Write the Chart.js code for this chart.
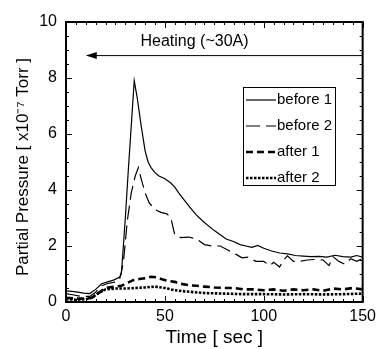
<!DOCTYPE html>
<html>
<head>
<meta charset="utf-8">
<script src="https://cdn.jsdelivr.net/npm/chart.js@4.4.0/dist/chart.umd.min.js"></script>
<style>
  html, body { margin: 0; padding: 0; background: #fff; }
  #wrap { width: 381px; height: 349px; position: relative; }
</style>
</head>
<body>
<div id="wrap"><canvas id="pressureChart"></canvas></div>
<script>
// time [sec] and partial pressure [x10^-7 Torr]
const before1Time = [0, 3, 6, 9, 12, 15, 18, 21, 24, 27, 28, 30, 31.5, 33, 34.5, 36, 38, 40, 41.5, 43, 45, 47, 50, 53, 55, 57, 60, 63, 66, 69, 72, 75, 78, 81, 85, 88, 91, 94, 97, 100, 104, 108, 112, 116, 120, 124, 128, 132, 136, 140, 144, 147, 150];
const before1 = [0.4, 0.38, 0.35, 0.32, 0.3, 0.45, 0.65, 0.72, 0.78, 0.88, 1.0, 3.0, 4.7, 6.3, 7.9, 7.3, 6.3, 5.4, 5.0, 4.8, 4.62, 4.5, 4.4, 4.25, 4.1, 3.9, 3.62, 3.35, 3.1, 2.9, 2.72, 2.55, 2.4, 2.25, 2.15, 2.05, 2.0, 1.95, 2.02, 1.92, 1.82, 1.75, 1.72, 1.66, 1.64, 1.62, 1.63, 1.6, 1.67, 1.62, 1.6, 1.66, 1.6];

const before2Time = [0, 4, 8, 12, 15, 18, 21, 24, 27, 29, 31, 33, 35, 36.6, 38, 40, 42, 45, 48, 51, 53, 55, 58, 62, 66, 70, 74, 78, 82, 86, 89, 92, 96, 100, 103, 105, 108, 110, 112, 115, 118, 122, 126, 130, 133, 135, 138, 141, 144, 147, 150];
const before2 = [0.3, 0.25, 0.2, 0.2, 0.35, 0.58, 0.66, 0.7, 0.78, 1.4, 2.9, 3.9, 4.5, 4.8, 4.4, 3.9, 3.55, 3.3, 3.2, 3.15, 3.0, 2.4, 2.3, 2.32, 2.25, 2.05, 2.0, 2.0, 1.85, 1.7, 1.58, 1.6, 1.45, 1.45, 1.3, 1.42, 1.25, 1.5, 1.65, 1.45, 1.45, 1.5, 1.52, 1.5, 1.3, 1.62, 1.45, 1.35, 1.55, 1.45, 1.55];

const after1Time = [0, 5, 10, 13, 16, 20, 25, 28, 31, 34, 37, 40, 43, 46, 49, 52, 55, 58, 62, 66, 70, 75, 80, 85, 90, 95, 100, 105, 110, 115, 120, 125, 130, 135, 140, 145, 150];
const after1 = [0.15, 0.12, 0.12, 0.15, 0.3, 0.5, 0.55, 0.58, 0.68, 0.78, 0.82, 0.85, 0.9, 0.88, 0.8, 0.75, 0.72, 0.65, 0.6, 0.58, 0.55, 0.52, 0.5, 0.5, 0.45, 0.45, 0.42, 0.45, 0.4, 0.45, 0.42, 0.45, 0.4, 0.48, 0.45, 0.5, 0.45];

const after2Time = [0, 5, 10, 13, 16, 20, 25, 30, 35, 40, 45, 50, 55, 60, 65, 70, 80, 90, 100, 110, 120, 130, 140, 150];
const after2 = [0.1, 0.08, 0.1, 0.15, 0.3, 0.45, 0.48, 0.48, 0.5, 0.52, 0.55, 0.5, 0.42, 0.38, 0.35, 0.32, 0.3, 0.28, 0.28, 0.27, 0.28, 0.27, 0.28, 0.3];

const seriesNames = ["before 1", "before 2", "after 1", "after 2"];
const xTicks = [0, 50, 100, 150];
const yTicks = [0, 2, 4, 6, 8, 10];

// heating period arrow (time range and level in data units)
const heatingLabel = "Heating (~30A)";
const heatingFrom = 150;
const heatingTo = 10;
const heatingLevel = 8.8;

const yTitle = "Partial Pressure [ x10\u207B\u2077 Torr ]";
const FONT = "'Liberation Sans', Arial, sans-serif";

function toPoints(times, values) {
  return times.map((t, i) => ({ x: t, y: values[i] }));
}

// frame, inward ticks, heating arrow, y title and legend box
const frameDecor = {
  id: "frameDecor",
  afterDraw(chart) {
    const { ctx, chartArea: a, scales: { x, y } } = chart;
    ctx.save();
    ctx.strokeStyle = "#000";
    ctx.fillStyle = "#000";
    ctx.lineWidth = 1;

    // minor ticks every 5 s and 0.5, major on labelled values
    ctx.beginPath();
    for (let t = 0; t <= 150; t += 5) {
      const px = Math.round(x.getPixelForValue(t)) + 0.5;
      const len = xTicks.includes(t) ? 6 : 3;
      ctx.moveTo(px, a.bottom); ctx.lineTo(px, a.bottom - len);
      ctx.moveTo(px, a.top); ctx.lineTo(px, a.top + len);
    }
    for (let v = 0; v <= 10; v += 0.5) {
      const py = Math.round(y.getPixelForValue(v)) + 0.5;
      const len = yTicks.includes(v) ? 6 : 3;
      ctx.moveTo(a.left, py); ctx.lineTo(a.left + len, py);
      ctx.moveTo(a.right, py); ctx.lineTo(a.right - len, py);
    }
    ctx.stroke();

    ctx.lineWidth = 2;
    ctx.strokeRect(a.left, a.top, a.right - a.left, a.bottom - a.top);

    // heating arrow
    const ay = y.getPixelForValue(heatingLevel);
    const ax0 = x.getPixelForValue(heatingFrom);
    const ax1 = x.getPixelForValue(heatingTo);
    ctx.lineWidth = 1;
    ctx.beginPath();
    ctx.moveTo(ax0, ay);
    ctx.lineTo(ax1 + 8, ay);
    ctx.stroke();
    ctx.beginPath();
    ctx.moveTo(ax1, ay);
    ctx.lineTo(ax1 + 11, ay - 3.5);
    ctx.lineTo(ax1 + 11, ay + 3.5);
    ctx.closePath();
    ctx.fill();

    ctx.font = "16px " + FONT;
    ctx.textAlign = "center";
    ctx.textBaseline = "middle";
    ctx.fillText(heatingLabel, x.getPixelForValue(65), y.getPixelForValue(9.3));

    // y axis title, a little below the plot centre as in the original
    ctx.save();
    ctx.translate(23, 167);
    ctx.rotate(-Math.PI / 2);
    ctx.font = "17px " + FONT;
    ctx.fillText(yTitle, 0, 0);
    ctx.restore();

    // legend box
    const bx = 243, by = 87, bw = 92, bh = 98;
    ctx.font = "15px " + FONT;
    ctx.lineWidth = 1;
    ctx.strokeRect(bx + 0.5, by + 0.5, bw, bh);
    ctx.textAlign = "left";
    chart.data.datasets.forEach((ds, i) => {
      const ry = by + 13 + i * 26;
      ctx.save();
      ctx.lineWidth = ds.borderWidth;
      ctx.setLineDash(ds.borderDash || []);
      ctx.beginPath();
      ctx.moveTo(bx + 3, ry);
      ctx.lineTo(bx + 33, ry);
      ctx.stroke();
      ctx.restore();
      ctx.fillText(ds.label, bx + 34, ry);
    });
    ctx.restore();
  }
};

const ctx = document.getElementById("pressureChart").getContext("2d");
const pressureChart = new Chart(ctx, {
  type: "line",
  data: {
    datasets: [
      {
        label: seriesNames[0],
        data: toPoints(before1Time, before1),
        borderColor: "#000",
        borderWidth: 1.2,
      },
      {
        label: seriesNames[1],
        data: toPoints(before2Time, before2),
        borderColor: "#000",
        borderWidth: 1.2,
        borderDash: [14, 6],
      },
      {
        label: seriesNames[2],
        data: toPoints(after1Time, after1),
        borderColor: "#000",
        borderWidth: 2.6,
        borderDash: [7, 4],
      },
      {
        label: seriesNames[3],
        data: toPoints(after2Time, after2),
        borderColor: "#000",
        borderWidth: 2.6,
        borderDash: [2.5, 1.5],
      },
    ],
  },
  options: {
    responsive: true,
    maintainAspectRatio: false,
    animation: false,
    parsing: false,
    layout: {
      padding: { top: 22, right: 12, left: 0, bottom: 0 },
    },
    elements: {
      point: { radius: 0 },
      line: { tension: 0, fill: false },
    },
    plugins: {
      legend: { display: false },
      tooltip: { enabled: false },
    },
    scales: {
      x: {
        type: "linear",
        min: 0,
        max: 150,
        grid: { display: false, drawTicks: false },
        border: { display: false },
        afterFit: (scale) => { scale.height = 47; },
        afterBuildTicks: (scale) => { scale.ticks = xTicks.map((v) => ({ value: v })); },
        ticks: {
          color: "#000",
          padding: 5,
          maxRotation: 0,
          font: { family: FONT, size: 16 },
        },
        title: {
          display: true,
          text: "Time [ sec ]",
          color: "#000",
          padding: { top: 0, bottom: 0 },
          font: { family: FONT, size: 19 },
        },
      },
      y: {
        min: 0,
        max: 10,
        grid: { display: false, drawTicks: false },
        border: { display: false },
        afterFit: (scale) => { scale.width = 66; },
        afterBuildTicks: (scale) => { scale.ticks = yTicks.map((v) => ({ value: v })); },
        ticks: {
          color: "#000",
          padding: 9,
          font: { family: FONT, size: 16 },
        },
        title: { display: false },
      },
    },
  },
  plugins: [frameDecor],
});
</script>
</body>
</html>
